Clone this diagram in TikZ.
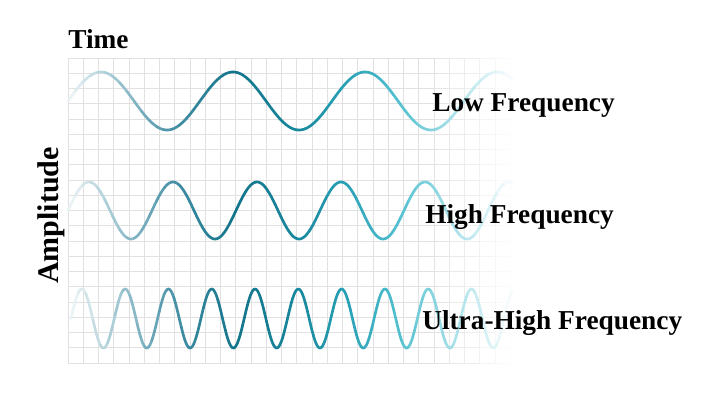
\documentclass[tikz,border=0pt]{standalone}
\usepackage{fontspec}
\setmainfont{Liberation Serif}

\definecolor{gridgray}{HTML}{E1E1E1}
\definecolor{wv0}{HTML}{EEF5F7}
\definecolor{wv1}{HTML}{94BFCC}
\definecolor{wv2}{HTML}{3F8CA2}
\definecolor{wv3}{HTML}{13758B}
\definecolor{wv4}{HTML}{17859B}
\definecolor{wv5}{HTML}{27A0B5}
\definecolor{wv6}{HTML}{55C1D1}
\definecolor{wv7}{HTML}{ACE2EA}
\definecolor{wv8}{HTML}{FAFDFE}

\newcommand{\freqwave}[4]{%
	\foreach \k in {0,...,59} {
		\pgfmathsetmacro{\tpos}{(\k+0.5)/60}
		\pgfmathtruncatemacro{\ja}{floor(8*\tpos)}
		\pgfmathtruncatemacro{\jb}{\ja+1}
		\pgfmathtruncatemacro{\mixp}{(8*\tpos-\ja)*100}
		\pgfmathsetmacro{\xa}{#1+(512-#1)/60*\k}
		\pgfmathsetmacro{\xb}{#1+(512-#1)/60*(\k+1)}
		\draw [ wave, color=wv\jb!\mixp!wv\ja ] plot [ domain=\xa:\xb, samples=8 ] (\x, {#2-#4*sin(360/#3*(\x-#1))});
	}}

\begin{document}
\begin{tikzpicture}[ x=0.75pt, y=-0.75pt,
		gridline/.style={ line width=0.75pt },
		wave/.style={ line width=2pt, line cap=round },
		label/.style={ font=\bfseries\fontsize{20.5}{24}\selectfont, inner sep=0pt, anchor=base west } ]
	\useasboundingbox [ fill=white ] (0,0) rectangle (712,400);

	\foreach \i in {0,...,30} {
		\pgfmathsetmacro{\gx}{68+\i*15.25}
		\pgfmathtruncatemacro{\gf}{max(0,min(100,(520-\gx)/90*100))}
		\draw [ gridline, gridgray!\gf!white ] (\gx,58) -- (\gx,363);
	}
	\foreach \i in {0,...,29} {
		\pgfmathsetmacro{\gx}{68+\i*15.25}
		\pgfmathtruncatemacro{\gf}{max(0,min(100,(512-\gx)/90*100))}
		\foreach \r in {0,...,20}
			\draw [ gridline, gridgray!\gf!white ] (\gx,{58+\r*15.25}) -- ({\gx+15.25},{58+\r*15.25});
	}

	\freqwave{68}{101}{132}{29}
	\freqwave{68}{210.5}{84}{28.5}
	\freqwave{71}{318.5}{43.3}{29.5}

	\node [ label ] (time) at (68,48) { Time };
	\node [ label ] (lowf) at (432,111) { Low Frequency };
	\node [ label ] (highf) at (425,223) { High Frequency };
	\node [ label ] (ultraf) at (422,329) { Ultra-High Frequency };
	\node [ label, font=\bfseries\fontsize{22.5}{26}\selectfont, anchor=base, rotate=90 ] (amp) at (58,215.5) { Amplitude };
\end{tikzpicture}
\end{document}
